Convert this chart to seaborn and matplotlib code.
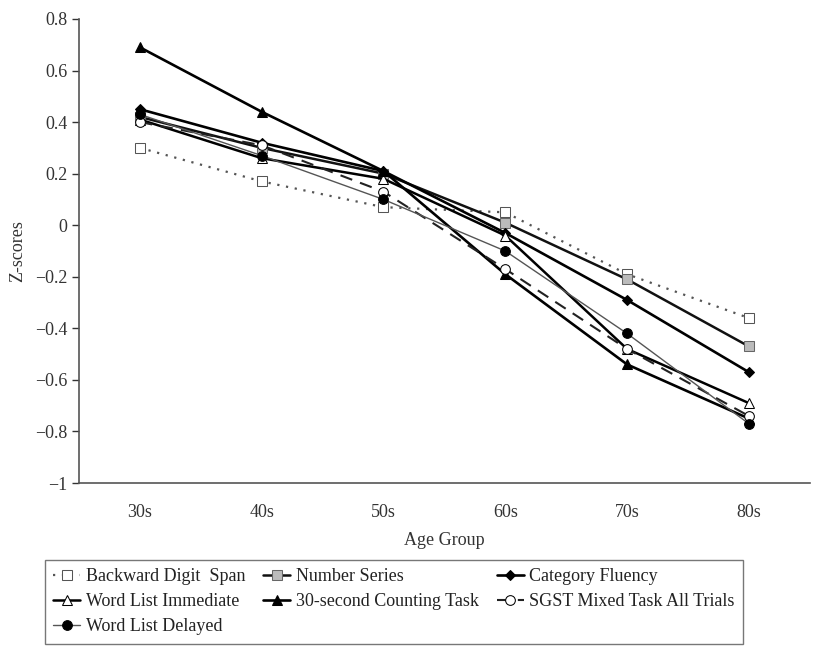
import matplotlib
matplotlib.use("Agg")
import matplotlib.pyplot as plt
import seaborn as sns
import pandas as pd

ages = ["30s", "40s", "50s", "60s", "70s", "80s"]
backward_digit_span = [0.30, 0.17, 0.07, 0.05, -0.19, -0.36]
number_series = [0.42, 0.30, 0.20, 0.01, -0.21, -0.47]
category_fluency = [0.45, 0.32, 0.21, -0.03, -0.29, -0.57]
word_list_immediate = [0.41, 0.26, 0.18, -0.04, -0.48, -0.69]
counting_task = [0.69, 0.44, 0.21, -0.19, -0.54, -0.75]
sgst_mixed = [0.40, 0.31, 0.13, -0.17, -0.48, -0.74]
word_list_delayed = [0.43, 0.27, 0.10, -0.10, -0.42, -0.77]

series = [
    ("Backward Digit  Span", backward_digit_span,
     dict(color="#555555", linestyle=(0, (1, 3)), linewidth=1.6, marker="s",
          markerfacecolor="white", markeredgecolor="#555555", markersize=7)),
    ("Number Series", number_series,
     dict(color="#111111", linestyle="-", linewidth=1.8, marker="s",
          markerfacecolor="#bbbbbb", markeredgecolor="#666666", markersize=7)),
    ("Category Fluency", category_fluency,
     dict(color="#000000", linestyle="-", linewidth=1.9, marker="D",
          markerfacecolor="black", markeredgecolor="black", markersize=5.5)),
    ("Word List Immediate", word_list_immediate,
     dict(color="#000000", linestyle="-", linewidth=1.8, marker="^",
          markerfacecolor="white", markeredgecolor="black", markersize=7.5)),
    ("30-second Counting Task", counting_task,
     dict(color="#000000", linestyle="-", linewidth=1.9, marker="^",
          markerfacecolor="black", markeredgecolor="black", markersize=7.5)),
    ("SGST Mixed Task All Trials", sgst_mixed,
     dict(color="#222222", linestyle=(0, (6, 4)), linewidth=1.5, marker="o",
          markerfacecolor="white", markeredgecolor="black", markersize=7)),
    ("Word List Delayed", word_list_delayed,
     dict(color="#555555", linestyle="-", linewidth=1.0, marker="o",
          markerfacecolor="black", markeredgecolor="black", markersize=7)),
]

sns.set_style("white")
plt.rcParams["font.family"] = ["Liberation Serif", "DejaVu Serif"]

fig = plt.figure(figsize=(8.13, 6.5), dpi=100)
ax = fig.add_axes([0.0972, 0.2569, 0.8988, 0.7139])

for name, vals, st in series:
    df = pd.DataFrame({"age": ages, "z": vals})
    sns.lineplot(data=df, x="age", y="z", ax=ax, sort=False, label=name, **st)

ax.set_xlim(-0.5, 5.5)
ax.set_ylim(-1.0, 0.8)
ax.set_yticks([-1, -0.8, -0.6, -0.4, -0.2, 0, 0.2, 0.4, 0.6, 0.8])
ax.set_yticklabels(["\u22121", "\u22120.8", "\u22120.6", "\u22120.4", "\u22120.2",
                    "0", "0.2", "0.4", "0.6", "0.8"])
ax.set_xticks(range(len(ages)))
ax.set_xticklabels(ages)
ax.set_xticks([0.5, 1.5, 2.5, 3.5, 4.5], minor=True)
ax.tick_params(axis="x", which="major", length=0, labelsize=13, pad=15, colors="#333333")
ax.tick_params(axis="x", which="minor", length=4, width=1, direction="out", color="#555555")
ax.tick_params(axis="y", which="major", length=5, width=1, direction="out",
               labelsize=13, colors="#333333", left=True)
ax.set_xlabel("Age Group", fontsize=13, color="#333333", labelpad=8)
ax.set_ylabel("Z-scores", fontsize=13, color="#333333", labelpad=6)
for s in ["top", "right"]:
    ax.spines[s].set_visible(False)
for s in ["left", "bottom"]:
    ax.spines[s].set_color("#555555")
    ax.spines[s].set_linewidth(1.2)

h, l = ax.get_legend_handles_labels()
order = [0, 3, 6, 1, 4, 2, 5]
leg = ax.legend([h[i] for i in order], [l[i] for i in order], ncol=3,
                loc="upper left", bbox_to_anchor=(45 / 813, 1 - 560 / 650),
                bbox_transform=fig.transFigure, frameon=True, fancybox=False,
                edgecolor="#555555", handlelength=1.5, handletextpad=0.3,
                columnspacing=1.0, labelspacing=0.45, borderpad=0.45,
                borderaxespad=0,
                prop={"family": ["Liberation Serif"], "size": 13})
for t in leg.get_texts():
    t.set_color("#222222")

fig.savefig("out.png", dpi=100)
